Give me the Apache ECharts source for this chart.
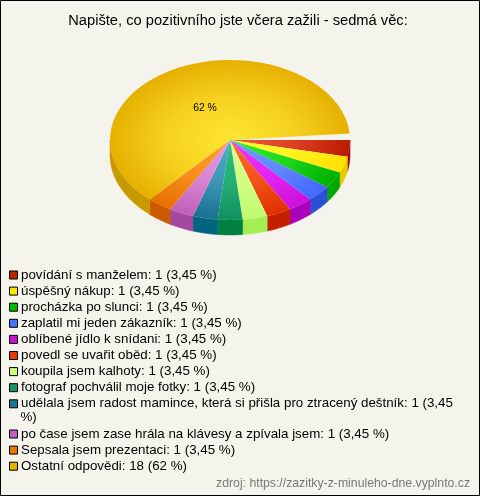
<!DOCTYPE html>
<html><head><meta charset="utf-8">
<style>html,body{margin:0;padding:0;background:#f5f4ec}#c{width:480px;height:496px}</style>
<script src="https://cdn.jsdelivr.net/npm/echarts@6/dist/echarts.min.js"></script>
</head><body><div id="c"></div>
<script>
const titleText = 'Napište, co pozitivního jste včera zažili - sedmá věc:';
const sourceText = 'zdroj: https://zazitky-z-minuleho-dne.vyplnto.cz';
const names = ['povídání s manželem','úspěšný nákup','procházka po slunci','zaplatil mi jeden zákazník','oblíbené jídlo k snídani','povedl se uvařit oběd','koupila jsem kalhoty','fotograf pochválil moje fotky','udělala jsem radost mamince, která si přišla pro ztracený deštník','po čase jsem zase hrála na klávesy a zpívala jsem','Sepsala jsem prezentaci','Ostatní odpovědi'];
const values = [1,1,1,1,1,1,1,1,1,1,1,18];
const percents = ['3,45','3,45','3,45','3,45','3,45','3,45','3,45','3,45','3,45','3,45','3,45','62'];
const legendColors = ['#bb2200','#ffe800','#00bb00','#4477ff','#cc11cc','#e63c00','#ccff77','#119966','#1a7a99','#c060c0','#e87800','#e8b000'];
const innerColors = ['#f05a3c','#ffff30','#30f030','#6f9dff','#ee33ff','#ff6a2c','#dcff90','#30c080','#50b0cc','#e89ae8','#ffa030','#ffe633'];
const outerColors = ['#bb1a00','#ffe000','#00b000','#4466ff','#cc11dd','#e03000','#c0fa70','#0f9060','#1a7090','#c060b8','#e87000','#e6b000'];
const sideColors = ['#a00000','#e6cc00','#00a800','#2a50d8','#aa00b8','#c42000','#a3ee55','#008040','#006680','#a548a0','#cc5a00','#c89a00'];

const cx = 230, cy = 140, rx = 120, ry = 80, depth = 15, gapDeg = 4.6;
const wrapIndex = 8;
const fontFamily = '"Liberation Sans", Arial, sans-serif';
const total = values.reduce((a, b) => a + b, 0);
const biggest = values.length - 1;
const smallSum = total - values[biggest];
const smallDeg = (smallSum * 360 / total - gapDeg) / smallSum;
const bigDeg = 360 / total;
let run = 0;
const spans = values.map((v, i) => {
  const sweep = i === biggest ? v * bigDeg : v * smallDeg;
  const s = [run, run + sweep];
  run += sweep;
  return s;
});
const rad = d => d * Math.PI / 180;
function sidePoints(a, b) {
  const from = Math.max(a, 0), to = Math.min(b, 180);
  if (to <= from) return null;
  const top = [], bottom = [];
  for (let t = from; t <= to + 1e-6; t += (to - from) / 24) {
    const x = cx + rx * Math.cos(rad(t)), y = cy + ry * Math.sin(rad(t));
    top.push([x, y]);
    bottom.unshift([x, y + depth]);
  }
  return top.concat(bottom);
}
function makeRender(i) {
  return function () {
    const s = spans[i];
    const children = [];
    const pts = sidePoints(s[0], s[1]);
    if (pts) children.push({ type: 'polygon', shape: { points: pts }, style: { fill: sideColors[i], stroke: sideColors[i], lineWidth: 0.5 } });
    const mid = echarts.color.lerp(0.4, [innerColors[i], outerColors[i]]);
    children.push({
      type: 'sector', x: cx, y: cy, scaleX: 1, scaleY: ry / rx,
      shape: { cx: 0, cy: 0, r0: 0, r: rx, startAngle: rad(s[0]), endAngle: rad(s[1]), clockwise: true },
      style: { fill: { type: 'radial', x: 0, y: 0, r: rx, global: true, colorStops: [{ offset: 0, color: innerColors[i] }, { offset: 0.55, color: mid }, { offset: 1, color: outerColors[i] }] } }
    });
    if (i === biggest) children.push({ type: 'text', x: 205, y: 108, z2: 10, style: { text: percents[i] + ' %', fill: '#000', font: '10.4px ' + fontFamily, align: 'center', verticalAlign: 'middle' } });
    return { type: 'group', children };
  };
}
const legendLabel = n => {
  const i = names.indexOf(n);
  const t = n + ': ' + values[i] + ' (' + percents[i];
  return t + (i === wrapIndex ? '' : ' %)');
};
const legendBase = {
  orient: 'vertical', left: 9, padding: 0, itemGap: 2.1, itemWidth: 8, itemHeight: 8,
  icon: 'rect', selectedMode: false, align: 'left', width: 460,
  itemStyle: { borderColor: '#000', borderWidth: 1 },
  textStyle: { fontSize: 13.33, lineHeight: 14, color: '#000', padding: [0, 0, 0, -1.5], fontFamily },
  formatter: legendLabel
};
const chart = echarts.init(document.getElementById('c'), null, { renderer: 'canvas' });
chart.setOption({
  animation: false,
  backgroundColor: '#f5f4ec',
  title: [
    { text: titleText, left: 238, top: 13, textAlign: 'center', padding: 0, textStyle: { fontSize: 14.7, fontWeight: 'normal', color: '#000', fontFamily } },
    { text: sourceText, right: 10, top: 478, padding: 0, textStyle: { fontSize: 12.25, fontWeight: 'normal', color: '#777', fontFamily } }
  ],
  legend: [
    Object.assign({}, legendBase, { top: 268, data: names.slice(0, wrapIndex + 1) }),
    Object.assign({}, legendBase, { top: 427, data: names.slice(wrapIndex + 1) })
  ],
  graphic: [
    { type: 'text', x: 20.5, y: 417, style: { text: '%)', fill: '#000', font: '13.33px ' + fontFamily, verticalAlign: 'middle' } },
    { type: 'rect', silent: true, z: 100, shape: { x: 0.5, y: 0.5, width: 479, height: 495 }, style: { fill: 'none', stroke: '#000', lineWidth: 1 } }
  ],
  series: names.map((name, i) => ({
    type: 'custom', name, coordinateSystem: 'none', silent: true,
    itemStyle: { color: legendColors[i] },
    data: [[values[i]]],
    renderItem: makeRender(i)
  }))
});
</script></body></html>
